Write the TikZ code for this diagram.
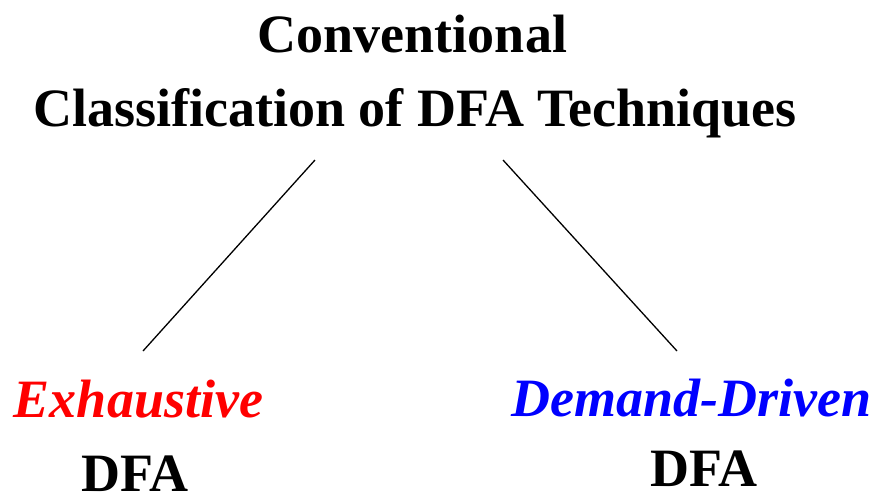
\documentclass[tikz,border=0pt]{standalone}
\usepackage{fontspec}
\setmainfont{Liberation Serif}
\begin{document}
\begin{tikzpicture}[x=1pt,y=-1pt,
  title/.style={font=\fontsize{54}{64}\selectfont\bfseries, anchor=base, inner sep=0pt},
  label/.style={font=\fontsize{54}{64}\selectfont\bfseries\itshape, anchor=base, inner sep=0pt},
  conn/.style={line width=1.3pt}]
\useasboundingbox (0,0) rectangle (878,493);
\node[title] (t1) at (412.5,52) {Conventional};
\node[title] (t2) at (415,126) {Classification of DFA Techniques};
\node[label, text=red] (ex) at (138.5,417) {Exhaustive};
\node[title] (d1) at (135,491) {DFA};
\node[label, text=blue] (dd) at (691.5,416) {Demand-Driven};
\node[title] (d2) at (704,486) {DFA};
\coordinate (a1) at (315,160);
\coordinate (a2) at (143,351);
\coordinate (b1) at (503,160);
\coordinate (b2) at (677,351);
\draw[conn] (a1) -- (a2);
\draw[conn] (b1) -- (b2);
\end{tikzpicture}
\end{document}
